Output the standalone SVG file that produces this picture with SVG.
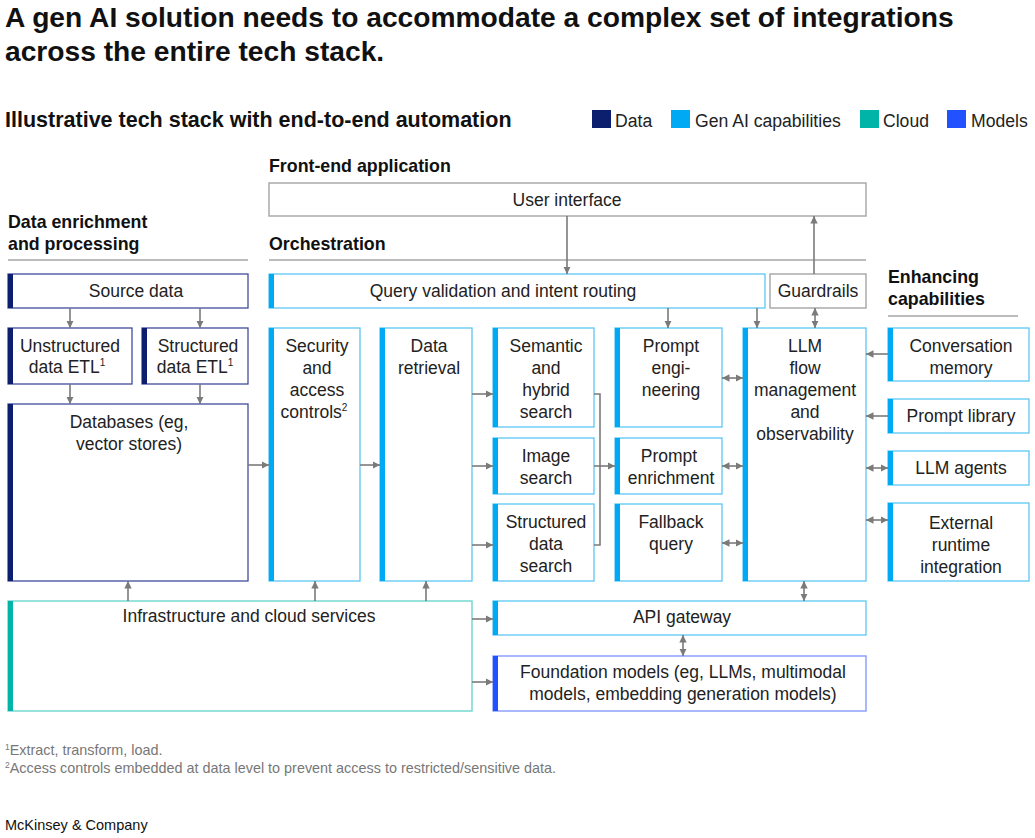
<svg xmlns="http://www.w3.org/2000/svg" width="1035" height="838" viewBox="0 0 1035 838">
<defs>
<style>
text{font-family:"Liberation Sans",Arial,sans-serif;fill:#222;}
.t{font-size:17.5px;text-anchor:middle;}
.h{font-size:17.8px;font-weight:bold;fill:#111;}
.title{font-size:28.2px;font-weight:bold;fill:#111;}
.sub{font-size:21.5px;font-weight:bold;fill:#111;}
.leg{font-size:17.6px;}
.fn{font-size:14.4px;fill:#777;}
.brand{font-size:14.5px;fill:#111;}
.sup{font-size:10px;}
.bD{fill:#fff;stroke:#3f4c9c;stroke-width:1.3;}
.bG{fill:#fff;stroke:#5cc8f5;stroke-width:1.3;}
.bC{fill:#fff;stroke:#62d3cb;stroke-width:1.3;}
.bM{fill:#fff;stroke:#7b93ff;stroke-width:1.3;}
.bN{fill:#fff;stroke:#aaa;stroke-width:1.5;}
.cD{fill:#0b1f6e;}
.cG{fill:#00a9f4;}
.cC{fill:#00b5a8;}
.cM{fill:#2251ff;}
.rule{stroke:#a6a6a6;stroke-width:1.5;fill:none;}
.c{stroke:#7a7a7a;stroke-width:1.6;fill:none;}
.a{marker-end:url(#ah);}
.d{marker-start:url(#ah);marker-end:url(#ah);}
</style>
<marker id="ah" viewBox="0 0 8 8" refX="7.5" refY="4" markerWidth="8" markerHeight="8" markerUnits="userSpaceOnUse" orient="auto-start-reverse">
<path d="M0,0.3 L7.5,4 L0,7.7 z" fill="#7a7a7a"/>
</marker>
</defs>
<rect width="1035" height="838" fill="#fff"/>

<g id="title">
<text class="title" x="5" y="27">A gen AI solution needs to accommodate a complex set of integrations</text>
<text class="title" x="5" y="61">across the entire tech stack.</text>
<text class="sub" x="5" y="127">Illustrative tech stack with end-to-end automation</text>
</g>

<g id="legend">
<rect class="cD" x="592" y="110" width="19" height="18"/>
<text class="leg" x="615" y="127">Data</text>
<rect class="cG" x="671" y="110" width="19" height="18"/>
<text class="leg" x="695" y="127">Gen AI capabilities</text>
<rect class="cC" x="860" y="110" width="19" height="18"/>
<text class="leg" x="883" y="127">Cloud</text>
<rect class="cM" x="947" y="110" width="19" height="18"/>
<text class="leg" x="971" y="127">Models</text>
</g>

<g id="headers">
<text class="h" x="8" y="228">Data enrichment</text>
<text class="h" x="8" y="250">and processing</text>
<line class="rule" x1="8" y1="260" x2="248" y2="260"/>
<text class="h" x="269" y="172">Front-end application</text>
<text class="h" x="269" y="250">Orchestration</text>
<line class="rule" x1="269" y1="260" x2="866" y2="260"/>
<text class="h" x="888" y="283">Enhancing</text>
<text class="h" x="888" y="305">capabilities</text>
<line class="rule" x1="888" y1="316" x2="1018" y2="316"/>
</g>

<g id="user-interface">
<rect class="bN" x="269" y="183" width="597" height="33"/>
<text class="t" x="567" y="206">User interface</text>
</g>

<g id="query-validation">
<rect class="bG" x="269" y="274" width="496" height="34"/>
<rect class="cG" x="269" y="274" width="5" height="34"/>
<text class="t" x="503" y="297">Query validation and intent routing</text>
</g>

<g id="guardrails">
<rect class="bN" x="770" y="274" width="96" height="34"/>
<text class="t" x="818" y="297">Guardrails</text>
</g>

<g id="source-data">
<rect class="bD" x="8" y="274" width="240" height="34"/>
<rect class="cD" x="8" y="274" width="5" height="34"/>
<text class="t" x="136" y="297">Source data</text>
</g>

<g id="unstructured-etl">
<rect class="bD" x="8" y="328" width="124" height="56"/>
<rect class="cD" x="8" y="328" width="5" height="56"/>
<text class="t"><tspan x="70" y="352">Unstructured</tspan><tspan x="67" y="373">data ETL<tspan class="sup" dy="-7">1</tspan></tspan></text>
</g>

<g id="structured-etl">
<rect class="bD" x="142" y="328" width="106" height="56"/>
<rect class="cD" x="142" y="328" width="5" height="56"/>
<text class="t"><tspan x="198" y="352">Structured</tspan><tspan x="195" y="373">data ETL<tspan class="sup" dy="-7">1</tspan></tspan></text>
</g>

<g id="databases">
<rect class="bD" x="8" y="404" width="240" height="177"/>
<rect class="cD" x="8" y="404" width="5" height="177"/>
<text class="t"><tspan x="129" y="428">Databases (eg,</tspan><tspan x="129" y="450">vector stores)</tspan></text>
</g>

<g id="security">
<rect class="bG" x="269" y="328" width="91" height="253"/>
<rect class="cG" x="269" y="328" width="5" height="253"/>
<text class="t"><tspan x="317" y="352">Security</tspan><tspan x="317" y="374">and</tspan><tspan x="317" y="396">access</tspan><tspan x="314" y="418">controls<tspan class="sup" dy="-7">2</tspan></tspan></text>
</g>

<g id="data-retrieval">
<rect class="bG" x="380" y="328" width="92" height="253"/>
<rect class="cG" x="380" y="328" width="5" height="253"/>
<text class="t"><tspan x="429" y="352">Data</tspan><tspan x="429" y="374">retrieval</tspan></text>
</g>

<g id="semantic-search">
<rect class="bG" x="493" y="328" width="101" height="99"/>
<rect class="cG" x="493" y="328" width="5" height="99"/>
<text class="t"><tspan x="546" y="352">Semantic</tspan><tspan x="546" y="374">and</tspan><tspan x="546" y="396">hybrid</tspan><tspan x="546" y="418">search</tspan></text>
</g>

<g id="image-search">
<rect class="bG" x="493" y="438" width="101" height="56"/>
<rect class="cG" x="493" y="438" width="5" height="56"/>
<text class="t"><tspan x="546" y="462">Image</tspan><tspan x="546" y="484">search</tspan></text>
</g>

<g id="structured-search">
<rect class="bG" x="493" y="504" width="101" height="77"/>
<rect class="cG" x="493" y="504" width="5" height="77"/>
<text class="t"><tspan x="546" y="528">Structured</tspan><tspan x="546" y="550">data</tspan><tspan x="546" y="572">search</tspan></text>
</g>

<g id="prompt-engineering">
<rect class="bG" x="615" y="328" width="107" height="99"/>
<rect class="cG" x="615" y="328" width="5" height="99"/>
<text class="t"><tspan x="671" y="352">Prompt</tspan><tspan x="671" y="374">engi-</tspan><tspan x="671" y="396">neering</tspan></text>
</g>

<g id="prompt-enrichment">
<rect class="bG" x="615" y="438" width="107" height="56"/>
<rect class="cG" x="615" y="438" width="5" height="56"/>
<text class="t"><tspan x="669" y="462">Prompt</tspan><tspan x="671" y="484">enrichment</tspan></text>
</g>

<g id="fallback-query">
<rect class="bG" x="615" y="504" width="107" height="77"/>
<rect class="cG" x="615" y="504" width="5" height="77"/>
<text class="t"><tspan x="671" y="528">Fallback</tspan><tspan x="671" y="550">query</tspan></text>
</g>

<g id="llm-flow">
<rect class="bG" x="743" y="328" width="123" height="253"/>
<rect class="cG" x="743" y="328" width="5" height="253"/>
<text class="t"><tspan x="805" y="352">LLM</tspan><tspan x="805" y="374">flow</tspan><tspan x="805" y="396">management</tspan><tspan x="805" y="418">and</tspan><tspan x="805" y="440">observability</tspan></text>
</g>

<g id="conversation-memory">
<rect class="bG" x="888" y="328" width="141" height="53"/>
<rect class="cG" x="888" y="328" width="5" height="53"/>
<text class="t"><tspan x="961" y="352">Conversation</tspan><tspan x="961" y="374">memory</tspan></text>
</g>

<g id="prompt-library">
<rect class="bG" x="888" y="399" width="141" height="34"/>
<rect class="cG" x="888" y="399" width="5" height="34"/>
<text class="t" x="961" y="422">Prompt library</text>
</g>

<g id="llm-agents">
<rect class="bG" x="888" y="451" width="141" height="34"/>
<rect class="cG" x="888" y="451" width="5" height="34"/>
<text class="t" x="961" y="474">LLM agents</text>
</g>

<g id="external-runtime">
<rect class="bG" x="888" y="503" width="141" height="78"/>
<rect class="cG" x="888" y="503" width="5" height="78"/>
<text class="t"><tspan x="961" y="529">External</tspan><tspan x="961" y="551">runtime</tspan><tspan x="961" y="573">integration</tspan></text>
</g>

<g id="infrastructure">
<rect class="bC" x="8" y="601" width="464" height="110"/>
<rect class="cC" x="8" y="601" width="5" height="110"/>
<text class="t" x="249" y="622">Infrastructure and cloud services</text>
</g>

<g id="api-gateway">
<rect class="bG" x="493" y="601" width="373" height="34"/>
<rect class="cG" x="493" y="601" width="5" height="34"/>
<text class="t" x="682" y="623">API gateway</text>
</g>

<g id="foundation-models">
<rect class="bM" x="493" y="656" width="373" height="55"/>
<rect class="cM" x="493" y="656" width="5" height="55"/>
<text class="t"><tspan x="683" y="678">Foundation models (eg, LLMs, multimodal</tspan><tspan x="683" y="700">models, embedding generation models)</tspan></text>
</g>

<g id="connectors">
<line class="c a" x1="567" y1="216" x2="567" y2="274"/>
<line class="c a" x1="814" y1="274" x2="814" y2="216"/>
<line class="c a" x1="70" y1="308" x2="70" y2="328"/>
<line class="c a" x1="200" y1="308" x2="200" y2="328"/>
<line class="c a" x1="70" y1="384" x2="70" y2="404"/>
<line class="c a" x1="200" y1="384" x2="200" y2="404"/>
<line class="c a" x1="248" y1="465" x2="269" y2="465"/>
<line class="c a" x1="360" y1="465" x2="380" y2="465"/>
<line class="c a" x1="472" y1="394" x2="493" y2="394"/>
<line class="c a" x1="472" y1="466" x2="493" y2="466"/>
<line class="c a" x1="472" y1="545" x2="493" y2="545"/>
<path class="c" d="M594,394 H600 V545 H594"/>
<line class="c a" x1="594" y1="466" x2="615" y2="466"/>
<line class="c a" x1="668" y1="308" x2="668" y2="328"/>
<line class="c a" x1="757" y1="308" x2="757" y2="328"/>
<line class="c d" x1="815" y1="308" x2="815" y2="328"/>
<line class="c d" x1="722" y1="378" x2="743" y2="378"/>
<line class="c d" x1="722" y1="466" x2="743" y2="466"/>
<line class="c d" x1="722" y1="543" x2="743" y2="543"/>
<line class="c a" x1="888" y1="354" x2="866" y2="354"/>
<line class="c a" x1="888" y1="416" x2="866" y2="416"/>
<line class="c d" x1="866" y1="468" x2="888" y2="468"/>
<line class="c d" x1="866" y1="520" x2="888" y2="520"/>
<line class="c d" x1="804" y1="581" x2="804" y2="601"/>
<line class="c a" x1="128" y1="601" x2="128" y2="581"/>
<line class="c a" x1="315" y1="601" x2="315" y2="581"/>
<line class="c a" x1="426" y1="601" x2="426" y2="581"/>
<line class="c a" x1="472" y1="619" x2="493" y2="619"/>
<line class="c a" x1="472" y1="682" x2="493" y2="682"/>
<line class="c d" x1="683" y1="635" x2="683" y2="656"/>
</g>

<g id="footnotes">
<text class="fn" x="5" y="755"><tspan font-size="8.5" dy="-5">1</tspan><tspan dy="5">Extract, transform, load.</tspan></text>
<text class="fn" x="5" y="773"><tspan font-size="8.5" dy="-5">2</tspan><tspan dy="5">Access controls embedded at data level to prevent access to restricted/sensitive data.</tspan></text>
<text class="brand" x="5" y="830">McKinsey &amp; Company</text>
</g>
</svg>
